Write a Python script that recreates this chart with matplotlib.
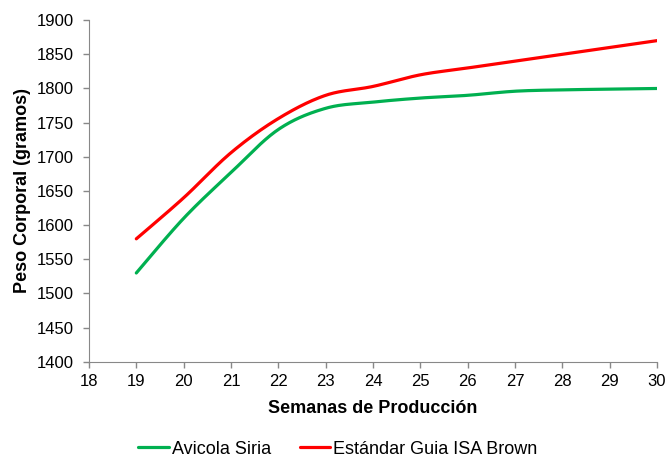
import numpy as np
import matplotlib
matplotlib.use("Agg")
import matplotlib.pyplot as plt

plt.rcParams['font.family'] = ['Liberation Sans', 'DejaVu Sans']

semanas = [19, 20, 21, 22, 23, 24, 25, 26, 27, 28, 29, 30]
avicola_siria = [1530, 1610, 1677, 1740, 1771, 1780, 1786, 1790, 1796, 1798, 1799, 1800]
estandar_isa = [1580, 1640, 1706, 1756, 1790, 1803, 1820, 1830, 1840, 1850, 1860, 1870]
xticks = list(range(18, 31))
yticks = list(range(1400, 1901, 50))


def smooth(x, y, n=30):
    # Excel-like smoothed line: cubic Bezier through the points (Catmull-Rom)
    x = np.asarray(x, float)
    y = np.asarray(y, float)
    px = np.concatenate([[x[0]], x, [x[-1]]])
    py = np.concatenate([[y[0]], y, [y[-1]]])
    xs, ys = [], []
    t = np.linspace(0, 1, n)
    for i in range(1, len(px) - 2):
        p0 = np.array([px[i], py[i]])
        p3 = np.array([px[i + 1], py[i + 1]])
        p1 = p0 + (np.array([px[i + 1], py[i + 1]]) - np.array([px[i - 1], py[i - 1]])) / 6
        p2 = p3 - (np.array([px[i + 2], py[i + 2]]) - np.array([px[i], py[i]])) / 6
        pts = ((1 - t) ** 3)[:, None] * p0 + (3 * (1 - t) ** 2 * t)[:, None] * p1 \
            + (3 * (1 - t) * t ** 2)[:, None] * p2 + (t ** 3)[:, None] * p3
        xs.extend(pts[:, 0])
        ys.extend(pts[:, 1])
    return xs, ys


fig = plt.figure(figsize=(6.69, 4.58), dpi=100)
ax = fig.add_axes([0.133, 0.21, 0.849, 0.746])

gx, gy = smooth(semanas, avicola_siria)
rx, ry = smooth(semanas, estandar_isa)
ax.plot(gx, gy, color='#00B050', lw=2.3, solid_capstyle='round', label='Avicola Siria')
ax.plot(rx, ry, color='#FF0000', lw=2.3, solid_capstyle='round', label='Estándar Guia ISA Brown')

ax.set_xlim(18, 30)
ax.set_ylim(1400, 1900)
ax.set_xticks(xticks)
ax.set_yticks(yticks)
ax.tick_params(labelsize=12, direction='out', length=4, color='#888888', width=1)
ax.tick_params(axis='y', pad=7)
ax.tick_params(axis='x', pad=5)
for s in ['top', 'right']:
    ax.spines[s].set_visible(False)
ax.spines['left'].set_color('#888888')
ax.spines['bottom'].set_color('#888888')

ax.set_xlabel('Semanas de Producción', fontsize=13, fontweight='bold', labelpad=8)
ax.set_ylabel('Peso Corporal (gramos)', fontsize=13, fontweight='bold', labelpad=4)

fig.legend(loc='lower center', ncol=2, frameon=False, fontsize=13,
           handlelength=1.7, handletextpad=0.15, columnspacing=1.6,
           bbox_to_anchor=(0.505, -0.035))

fig.savefig('out.png', dpi=100)
